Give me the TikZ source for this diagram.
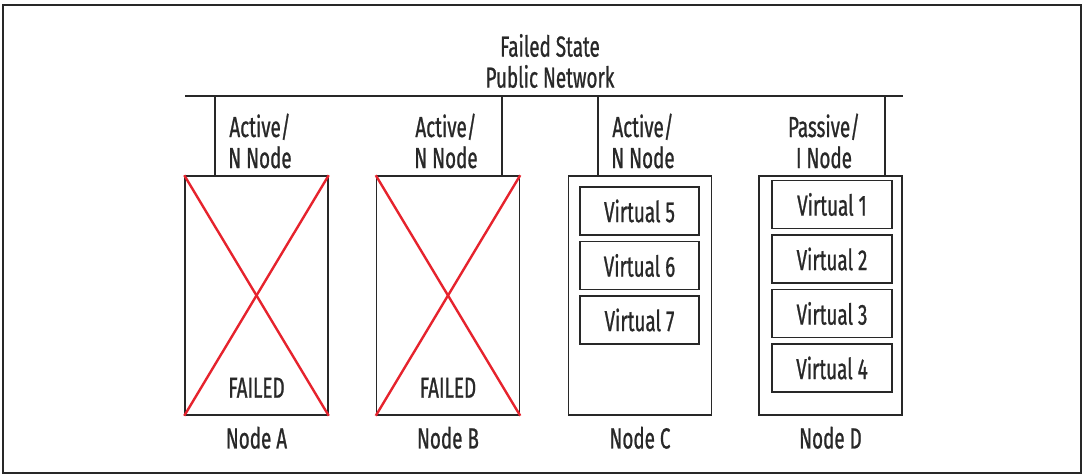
\documentclass[tikz,border=0pt]{standalone}
\usepackage{fontspec}
\setmainfont{Fira Sans}[FakeStretch=0.65, FakeBold=0.8]
\usetikzlibrary{positioning}
\definecolor{failred}{RGB}{230,35,45}
\definecolor{linegray}{RGB}{40,40,40}

\begin{document}
\begin{tikzpicture}[x=0.5pt, y=-0.5pt, line width=0.75pt, color=linegray,
    font=\fontsize{14.5}{15.5}\selectfont,
    srvbox/.style={draw, rectangle, minimum width=71.5pt, minimum height=119.5pt, inner sep=0pt},
    virtbox/.style={draw, rectangle, minimum width=60pt, minimum height=24pt, inner sep=0pt},
    rolelbl/.style={align=center},
    failx/.style={failred, line width=1.2pt}]
    \useasboundingbox (0,0) rectangle (1084,475);
    \draw[line width=1pt] (3,5) rectangle (1081,473);

    % title and public network bus
    \node[align=center] (title) at (550,61) {Failed State\\Public Network};
    \coordinate (busL) at (185,96);
    \coordinate (busR) at (903,96);
    \draw (busL) -- (busR);

    % cluster nodes
    \node[srvbox] (nodeA) at (256.5,295.5) {};
    \node[srvbox] (nodeB) at (448,295.5) {};
    \node[srvbox] (nodeC) at (640,295.5) {};
    \node[srvbox] (nodeD) at (830.5,295.5) {};

    \foreach \n/\x in {A/215, B/502, C/598, D/885} {
        \coordinate (tap\n) at (\x,96);
        \draw (tap\n) -- (tap\n |- node\n.north);
        \node at ([yshift=-11pt]node\n.south) (lbl\n) {Node \n};
    }

    \node[rolelbl] (roleA) at (260,141) {Active/\\N Node};
    \node[rolelbl] (roleB) at (446,141) {Active/\\N Node};
    \node[rolelbl] (roleC) at (643,141) {Active/\\N Node};
    \node[rolelbl] (roleD) at (824,141) {Passive/\\I Node};

    % failed nodes
    \foreach \n in {A, B} {
        \draw[failx] (node\n.north west) -- (node\n.south east);
        \draw[failx] (node\n.north east) -- (node\n.south west);
        \node at ([yshift=14pt]node\n.south) (fail\n) {FAILED};
    }

    % virtual servers
    \node[virtbox, minimum width=59.5pt] (v5) at (639.5,211) {Virtual 5};
    \node[virtbox, minimum width=59.5pt, below=2.5pt of v5] (v6) {Virtual 6};
    \node[virtbox, minimum width=59.5pt, below=2.5pt of v6] (v7) {Virtual 7};
    \node[virtbox] (v1) at (832,204.5) {Virtual 1};
    \node[virtbox, below=2.5pt of v1] (v2) {Virtual 2};
    \node[virtbox, below=2.5pt of v2] (v3) {Virtual 3};
    \node[virtbox, below=2.5pt of v3] (v4) {Virtual 4};
\end{tikzpicture}
\end{document}
